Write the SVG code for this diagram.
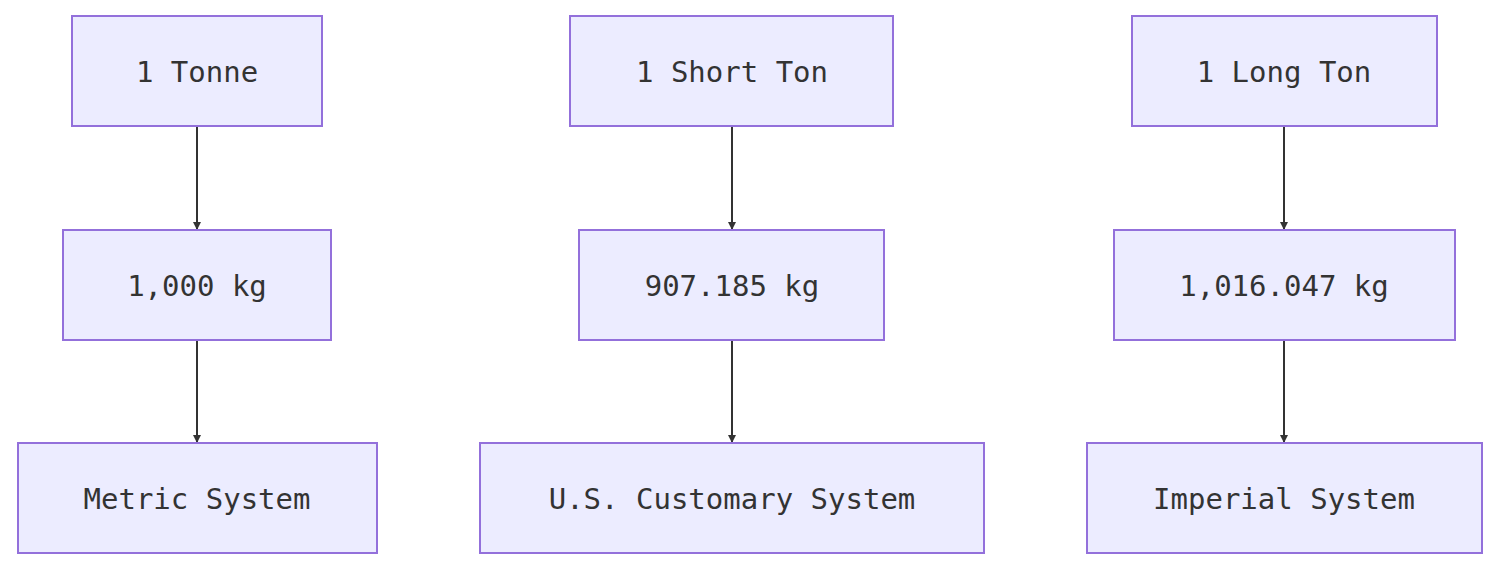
<svg xmlns="http://www.w3.org/2000/svg" width="1500" height="570" viewBox="0 0 1500 570">
<style>
.n rect{fill:#ECECFF;stroke:#9370DB;stroke-width:2}
.n text{font-family:"DejaVu Sans Mono",monospace;font-size:29px;fill:#333;text-anchor:middle;dominant-baseline:central}
.e line{stroke:#333;stroke-width:2;marker-end:url(#a)}
</style>
<defs><marker id="a" viewBox="0 0 10 10" refX="10" refY="5" markerWidth="8" markerHeight="8" markerUnits="userSpaceOnUse" orient="auto"><path d="M0,0L10,5L0,10z" fill="#333"/></marker></defs>
<rect width="1500" height="570" fill="#fff"/>
<g class="e">
<line x1="197" y1="127" x2="197" y2="230"/><line x1="197" y1="341" x2="197" y2="443"/>
<line x1="732" y1="127" x2="732" y2="230"/><line x1="732" y1="341" x2="732" y2="443"/>
<line x1="1284" y1="127" x2="1284" y2="230"/><line x1="1284" y1="341" x2="1284" y2="443"/>
</g>
<g id="t1" class="n"><rect x="72" y="16" width="250" height="110"/><text x="197" y="72">1 Tonne</text></g>
<g id="k1" class="n"><rect x="63" y="230" width="268" height="110"/><text x="197" y="286">1,000 kg</text></g>
<g id="s1" class="n"><rect x="18" y="443" width="359" height="110"/><text x="197" y="499">Metric System</text></g>
<g id="t2" class="n"><rect x="570" y="16" width="323" height="110"/><text x="732" y="72">1 Short Ton</text></g>
<g id="k2" class="n"><rect x="579" y="230" width="305" height="110"/><text x="732" y="286">907.185 kg</text></g>
<g id="s2" class="n"><rect x="480" y="443" width="504" height="110"/><text x="732" y="499">U.S. Customary System</text></g>
<g id="t3" class="n"><rect x="1132" y="16" width="305" height="110"/><text x="1284" y="72">1 Long Ton</text></g>
<g id="k3" class="n"><rect x="1114" y="230" width="341" height="110"/><text x="1284" y="286">1,016.047 kg</text></g>
<g id="s3" class="n"><rect x="1087" y="443" width="395" height="110"/><text x="1284" y="499">Imperial System</text></g>
</svg>
